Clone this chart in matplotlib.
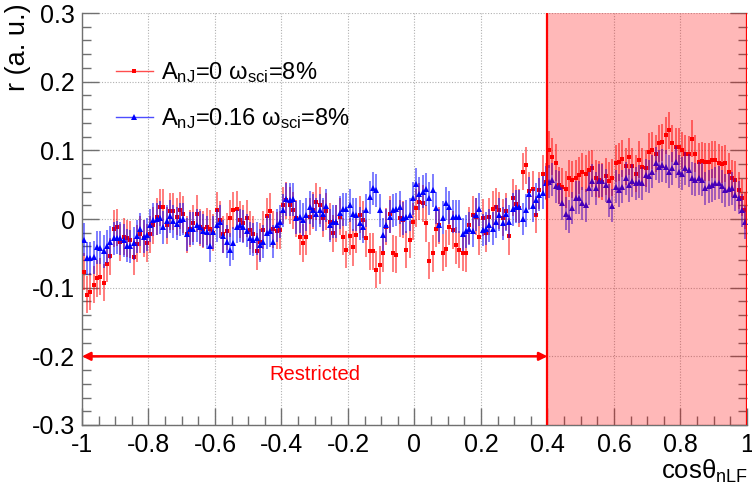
import numpy as np
import matplotlib
matplotlib.use("Agg")
import matplotlib.pyplot as plt
from matplotlib.lines import Line2D

plt.rcParams['font.family'] = ['Liberation Sans', 'DejaVu Sans']
plt.rcParams['mathtext.fontset'] = 'custom'
plt.rcParams['mathtext.rm'] = 'Liberation Sans'
plt.rcParams['mathtext.it'] = 'Liberation Sans:italic'
plt.rcParams['mathtext.default'] = 'regular'

# ---------------- data ----------------
x_min, x_max, n_bins = -1.0, 1.0, 200
cos_theta = np.linspace(x_min, x_max, n_bins + 1)[:-1] + (x_max - x_min) / n_bins / 2

red_values = [
    -0.077, -0.110, -0.106, -0.096, -0.086, -0.084, -0.093, -0.065, -0.054, -0.014,
    -0.012, -0.034, -0.026, -0.028, -0.030, -0.055, -0.036, -0.022, -0.028, -0.035,
    -0.022, -0.009, 0.003, 0.017, 0.017, -0.009, 0.011, 0.011, 0.003, 0.013,
    0.007, -0.022, -0.014, -0.006, 0.008, -0.012, -0.015, -0.011, -0.014, -0.020,
    0.013, -0.001, -0.022, -0.018, 0.001, 0.013, 0.014, -0.001, -0.006, 0.001,
    -0.016, -0.022, -0.047, -0.033, -0.016, 0.004, 0.011, -0.015, -0.017, -0.016,
    0.020, 0.027, 0.020, 0.013, 0.001, -0.026, -0.035, -0.026, 0.003, 0.013,
    0.025, 0.020, 0.001, 0.011, -0.004, -0.021, -0.006, 0.003, -0.026, -0.045,
    -0.025, -0.041, -0.023, 0.006, -0.001, -0.028, -0.047, -0.047, -0.074, -0.067,
    -0.050, -0.011, 0.007, -0.050, -0.052, 0.001, -0.001, -0.045, -0.030, -0.004,
    0.016, 0.025, 0.023, -0.006, -0.061, -0.050, -0.014, -0.009, -0.049, -0.043,
    -0.011, -0.016, -0.038, -0.045, -0.049, -0.050, -0.009, 0.006, 0.003, -0.026,
    0.002, -0.021, 0.003, 0.014, 0.018, 0.013, 0.002, 0.011, -0.025, 0.031,
    0.022, 0.016, 0.069, 0.078, 0.041, 0.043, 0.006, 0.042, 0.066, 0.054,
    0.101, 0.091, 0.082, 0.049, 0.047, 0.043, 0.059, 0.057, 0.059, 0.064,
    0.069, 0.066, 0.072, 0.074, 0.059, 0.057, 0.054, 0.062, 0.056, 0.060,
    0.081, 0.083, 0.088, 0.077, 0.091, 0.077, 0.066, 0.086, 0.076, 0.074,
    0.098, 0.100, 0.095, 0.110, 0.112, 0.122, 0.129, 0.110, 0.105, 0.105,
    0.100, 0.095, 0.094, 0.117, 0.095, 0.083, 0.085, 0.083, 0.083, 0.086,
    0.086, 0.082, 0.080, 0.081, 0.069, 0.059, 0.057, 0.042, 0.031, 0.013,
]

blue_values = [
    -0.030, -0.057, -0.057, -0.056, -0.041, -0.042, -0.047, -0.040, -0.034, -0.028,
    -0.027, -0.028, -0.031, -0.039, -0.040, -0.035, -0.025, -0.015, -0.026, -0.023,
    -0.009, -0.001, 0.000, 0.002, -0.012, -0.003, 0.004, -0.003, -0.007, -0.001,
    0.000, -0.022, -0.014, -0.014, -0.009, -0.012, -0.017, -0.019, -0.039, -0.019,
    -0.009, -0.004, -0.025, -0.033, -0.045, -0.035, -0.011, -0.009, -0.011, -0.017,
    -0.028, -0.030, -0.028, -0.038, -0.033, -0.020, -0.017, -0.033, -0.009, -0.004,
    0.013, 0.029, 0.028, 0.029, 0.002, 0.003, -0.001, 0.006, 0.017, 0.013,
    0.007, 0.013, 0.007, 0.019, -0.009, -0.004, -0.004, 0.009, 0.014, 0.014,
    0.020, 0.007, 0.006, -0.006, -0.011, 0.013, 0.032, 0.045, 0.042, 0.013,
    -0.023, -0.009, 0.003, 0.013, 0.014, 0.017, 0.001, 0.003, 0.006, 0.030,
    0.051, 0.037, 0.040, 0.043, 0.030, 0.042, 0.016, -0.009, 0.002, 0.023,
    0.017, 0.003, 0.003, 0.003, -0.022, -0.018, -0.014, -0.017, 0.006, 0.014,
    -0.016, -0.014, -0.009, -0.014, -0.004, 0.006, -0.006, 0.007, -0.004, 0.014,
    0.018, 0.018, 0.000, 0.013, 0.037, 0.019, 0.028, 0.035, 0.038, 0.053,
    0.054, 0.057, 0.048, 0.046, 0.023, 0.008, 0.003, 0.016, 0.031, 0.031,
    0.023, 0.020, 0.045, 0.056, 0.045, 0.056, 0.056, 0.049, 0.027, 0.019,
    0.047, 0.042, 0.047, 0.059, 0.049, 0.056, 0.052, 0.054, 0.052, 0.064,
    0.062, 0.069, 0.081, 0.076, 0.078, 0.076, 0.069, 0.074, 0.083, 0.069,
    0.066, 0.074, 0.071, 0.059, 0.057, 0.059, 0.057, 0.045, 0.048, 0.049,
    0.052, 0.053, 0.048, 0.042, 0.043, 0.045, 0.035, 0.031, 0.013, -0.005,
]

red_error = 0.027
blue_error = 0.024

red_label = r"A$_{\rm nJ}$=0 $\omega_{\rm sci}$=8%"
blue_label = r"A$_{\rm nJ}$=0.16 $\omega_{\rm sci}$=8%"

x_ticks = [-1, -0.8, -0.6, -0.4, -0.2, 0, 0.2, 0.4, 0.6, 0.8, 1]
x_tick_labels = ["-1", "-0.8", "-0.6", "-0.4", "-0.2", "0", "0.2", "0.4", "0.6", "0.8", "1"]
y_ticks = [-0.3, -0.2, -0.1, 0, 0.1, 0.2, 0.3]
y_tick_labels = ["-0.3", "-0.2", "-0.1", "0", "0.1", "0.2", "0.3"]

restricted_start, restricted_end, restricted_level = -1.0, 0.4, -0.2
restricted_text = "Restricted"

# ---------------- figure ----------------
W, H = 752, 492
fig = plt.figure(figsize=(W / 100, H / 100), dpi=100)
ax = fig.add_axes([82 / W, 1 - 425 / H, (747 - 82) / W, (425 - 13) / H])

ax.set_xlim(-1, 1)
ax.set_ylim(-0.3, 0.3)

ax.errorbar(cos_theta, red_values, yerr=red_error, fmt='s', color='red',
            ms=2.3, mew=0, elinewidth=1.3, ecolor=(1, 0, 0, 0.55), capsize=0, zorder=3)
ax.errorbar(cos_theta, blue_values, yerr=blue_error, fmt='^', color='blue',
            ms=4.2, mew=0, elinewidth=1.3, ecolor=(0, 0, 1, 0.55), capsize=0, zorder=4)

# shaded region
ax.axvspan(restricted_end, 1.0, facecolor=(1, 0, 0, 0.28), edgecolor='none', zorder=10)
ax.axvline(restricted_end, color='red', lw=1.6, zorder=11)
ax.axvline(1.0, color='red', lw=1.6, zorder=11)

# restricted arrow
ax.annotate("", xy=(restricted_start, restricted_level), xytext=(restricted_end, restricted_level),
            arrowprops=dict(arrowstyle='<|-|>', color='red', lw=1.8,
                            mutation_scale=12, shrinkA=0, shrinkB=0), zorder=6)
ax.text((restricted_start + restricted_end) / 2, -0.227, restricted_text, color='red',
        fontsize=14.5, ha='center', va='center', zorder=6)

# ticks & grid
ax.set_xticks(x_ticks)
ax.set_xticklabels(x_tick_labels)
ax.set_yticks(y_ticks)
ax.set_yticklabels(y_tick_labels)
ax.set_xticks(np.arange(-1, 1.001, 0.05), minor=True)
ax.set_yticks(np.arange(-0.3, 0.301, 0.02), minor=True)
ax.tick_params(which='both', direction='in', top=False, right=True, colors='#707070',
               labelcolor='black')
ax.tick_params(which='major', length=12, width=1.0, labelsize=18)
ax.tick_params(which='minor', length=6.5, width=1.0)
ax.tick_params(axis='x', which='major', pad=6)
ax.tick_params(axis='y', which='major', pad=5)
ax.grid(True, which='major', color='#b0b0b0', linestyle=(0, (1, 1.5)), linewidth=0.8)
ax.set_axisbelow(True)
for s in ['left', 'bottom']:
    ax.spines[s].set_color('#707070')
    ax.spines[s].set_linewidth(1.0)
for s in ['top', 'right']:
    ax.spines[s].set_visible(False)

# axis titles
fig.text(18 / W, 1 - 3 / H, "r (a. u.)", rotation=90, ha='center', va='top', fontsize=19.5)
fig.text(748 / W, 1 - 479 / H, r"cos$\theta_{\rm nLF}$", ha='right', va='baseline', fontsize=18.5)

# legend
handles = [
    Line2D([], [], color=(1, 0.3, 0.3), lw=1.0, marker='s', ms=2.3, mew=0, mfc='red'),
    Line2D([], [], color=(0.3, 0.3, 1), lw=1.0, marker='^', ms=4.2, mew=0, mfc='blue'),
]
ax.legend(handles, [red_label, blue_label], loc='upper left',
          bbox_to_anchor=(116 / W, 1 - 60 / H), bbox_transform=fig.transFigure,
          frameon=False, fontsize=17, handlelength=1.55, handletextpad=0.35,
          labelspacing=0.9, borderpad=0, borderaxespad=0)

fig.savefig("out.png", dpi=100)
